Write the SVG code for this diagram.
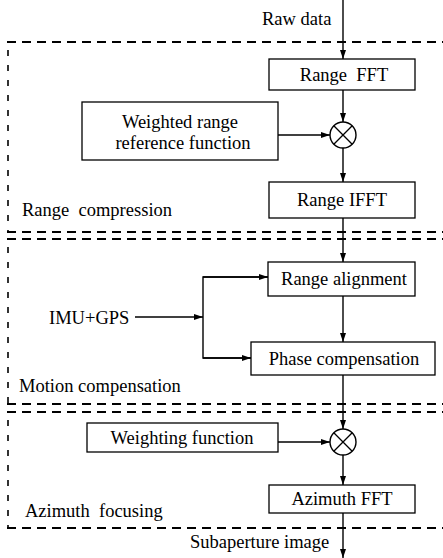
<svg xmlns="http://www.w3.org/2000/svg" width="443" height="558" viewBox="0 0 443 558">
<defs>
<marker id="ah" markerWidth="9" markerHeight="6" refX="9" refY="3" orient="auto" markerUnits="userSpaceOnUse">
<path d="M0,0 L9,3 L0,6 Z" fill="#000"/>
</marker>
<style>
text{font-family:'Liberation Serif','Times New Roman',serif;font-size:18.5px;fill:#000;white-space:pre}
.box{fill:#fff;stroke:#000;stroke-width:1.3}
.gh{fill:none;stroke:#000;stroke-width:2;stroke-dasharray:9 6}
.gv{fill:none;stroke:#000;stroke-width:1.6;stroke-dasharray:6 9}
.ln{fill:none;stroke:#000;stroke-width:1.4}
.ar{fill:none;stroke:#000;stroke-width:1.4;marker-end:url(#ah)}
.mid{text-anchor:middle}
</style>
</defs>
<rect width="443" height="558" fill="#fff"/>
<g id="groups">
<line class="gh" x1="7" y1="42" x2="443" y2="42"/>
<line class="gv" x1="8" y1="50" x2="8" y2="232"/>
<line class="gh" x1="7" y1="232" x2="443" y2="232"/>
<line class="gh" x1="7" y1="239" x2="443" y2="239"/>
<line class="gv" x1="8" y1="247" x2="8" y2="404"/>
<line class="gh" x1="7" y1="404" x2="443" y2="404"/>
<line class="gh" x1="7" y1="412" x2="443" y2="412"/>
<line class="gv" x1="8" y1="420" x2="8" y2="528"/>
<line class="gh" x1="7" y1="528" x2="443" y2="528"/>
<text x="22" y="216" xml:space="preserve">Range  compression</text>
<text x="19" y="392">Motion compensation</text>
<text x="25" y="517" xml:space="preserve">Azimuth  focusing</text>
</g>
<g id="connectors">
<line class="ar" x1="343" y1="0" x2="343" y2="59"/>
<line class="ar" x1="343" y1="90" x2="343" y2="122"/>
<line class="ar" x1="278" y1="135" x2="330" y2="135"/>
<line class="ar" x1="343" y1="148" x2="343" y2="182"/>
<line class="ar" x1="343" y1="218" x2="343" y2="262"/>
<line class="ar" x1="135" y1="317" x2="203" y2="317"/>
<polyline class="ln" points="268,277 203,277 203,358 251,358"/>
<line class="ar" x1="203" y1="277" x2="268" y2="277"/>
<line class="ar" x1="203" y1="358" x2="251" y2="358"/>
<line class="ar" x1="343" y1="296" x2="343" y2="342"/>
<line class="ar" x1="343" y1="375" x2="343" y2="429"/>
<line class="ar" x1="278" y1="442" x2="330" y2="442"/>
<line class="ar" x1="343" y1="455" x2="343" y2="485"/>
<line class="ar" x1="343" y1="513" x2="343" y2="558"/>
</g>
<g id="raw-data"><text x="262" y="25">Raw data</text></g>
<g id="range-fft">
<rect class="box" x="269" y="59" width="146" height="31"/>
<text class="mid" x="344" y="81" xml:space="preserve">Range  FFT</text>
</g>
<g id="weighted-ref">
<rect class="box" x="82" y="102" width="196" height="58"/>
<text class="mid" x="180" y="128">Weighted range</text>
<text class="mid" x="183" y="149">reference function</text>
</g>
<g id="mult1">
<circle cx="343" cy="135" r="13" fill="#fff" stroke="#000" stroke-width="1.4"/>
<path d="M333.8,125.8 L352.2,144.2 M352.2,125.8 L333.8,144.2" stroke="#000" stroke-width="1.3"/>
</g>
<g id="range-ifft">
<rect class="box" x="269" y="182" width="146" height="36"/>
<text class="mid" x="342" y="206">Range IFFT</text>
</g>
<g id="imu-gps"><text x="49" y="324">IMU+GPS</text></g>
<g id="range-alignment">
<rect class="box" x="268" y="262" width="147" height="34"/>
<text class="mid" x="344" y="285">Range alignment</text>
</g>
<g id="phase-comp">
<rect class="box" x="251" y="342" width="184" height="33"/>
<text class="mid" x="344" y="365">Phase compensation</text>
</g>
<g id="weighting-function">
<rect class="box" x="87" y="423" width="191" height="29"/>
<text class="mid" x="182" y="444">Weighting function</text>
</g>
<g id="mult2">
<circle cx="343" cy="442" r="13" fill="#fff" stroke="#000" stroke-width="1.4"/>
<path d="M333.8,432.8 L352.2,451.2 M352.2,432.8 L333.8,451.2" stroke="#000" stroke-width="1.3"/>
</g>
<g id="azimuth-fft">
<rect class="box" x="269" y="485" width="146" height="28"/>
<text class="mid" x="342" y="505">Azimuth FFT</text>
</g>
<g id="subaperture"><text x="190" y="548">Subaperture image</text></g>
</svg>
